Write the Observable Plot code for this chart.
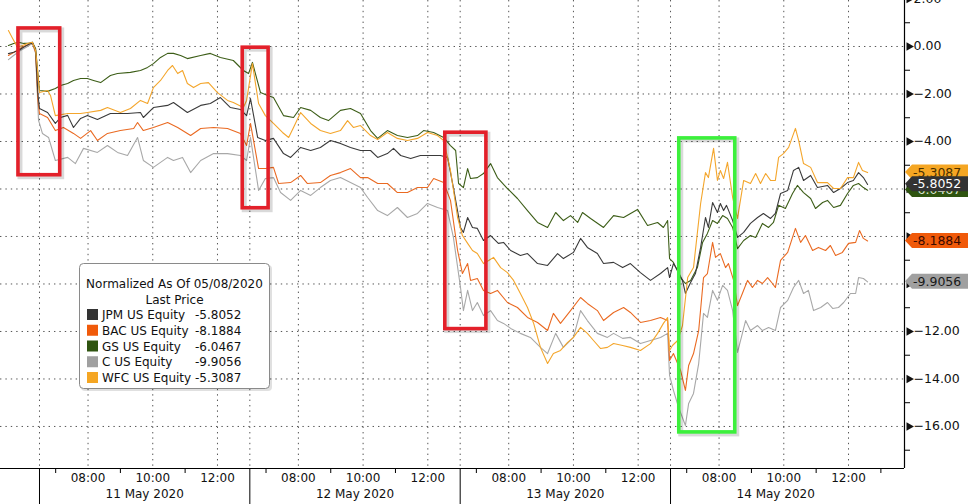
<!DOCTYPE html>
<html><head><meta charset="utf-8">
<script src="https://cdn.jsdelivr.net/npm/d3@7"></script>
<script src="https://cdn.jsdelivr.net/npm/@observablehq/plot@0.6"></script>
<style>
html,body{margin:0;padding:0;background:#fff;}
#chart{position:relative;width:976px;height:504px;overflow:hidden;}
</style></head><body><div id="chart"></div>
<script>
// ---- data (time = trading hours since 11 May 06:30 open; sessions 06:30-13:00, gaps removed) ----
const tickers = ["JPM US Equity","BAC US Equity","GS US Equity","C US Equity","WFC US Equity"];
const lastPrice = [-5.8052,-8.1884,-6.0467,-9.9056,-5.3087];
const legendColors = ["#333333","#f05a0a","#2f5410","#a0a0a0","#f5a623"];
const lineColors = ["#3a3a3a","#ea6a22","#3d5e18","#a8a8a8","#f4a62c"];
const tagText = ["#ffffff","#3b0a00","#dfe8d6","#1a1a1a","#4a3000"];
const sessions = ["11 May 2020","12 May 2020","13 May 2020","14 May 2020"];
const hourLabels = ["08:00","10:00","12:00"];
const titleLines = ["Normalized As Of 05/08/2020","Last Price"];

const JPM = [[-0.96,-0.30],[-0.80,-0.24],[-0.65,-0.17],[-0.49,-0.03],[-0.34,0.08],[-0.22,0.18],[-0.12,-0.17],[-0.05,-1.98],
[0.00,-2.61],[0.25,-2.78],[0.49,-3.24],[0.65,-2.99],[0.87,-2.90],[1.05,-3.41],[1.27,-3.03],[1.48,-2.91],[1.79,-3.07],[2.19,-2.82],[2.72,-2.82],[3.12,-2.78],[3.21,-2.99],[3.52,-2.57],[3.96,-2.48],[4.14,-2.36],[4.57,-2.78],[4.98,-2.48],[5.28,-2.40],[5.59,-2.15],[5.90,-2.57],[6.21,-2.65],[6.40,-2.91],
[6.52,-2.19],[6.74,-3.83],[6.98,-3.96],[7.23,-3.87],[7.54,-4.51],[7.76,-4.67],[8.07,-4.25],[8.38,-4.38],[8.68,-4.25],[8.99,-3.96],[9.30,-4.08],[9.61,-4.25],[9.92,-4.38],[10.23,-4.38],[10.45,-4.67],[10.75,-4.51],[10.94,-4.29],[11.16,-4.59],[11.47,-4.72],[11.77,-4.59],[12.08,-4.59],[12.39,-4.59],[12.61,-4.67],[12.79,-5.94],
[13.01,-7.62],[13.10,-7.83],[13.23,-7.20],[13.38,-7.62],[13.53,-7.66],[13.72,-8.17],[13.94,-7.96],[14.18,-8.29],[14.34,-8.25],[14.56,-8.59],[14.86,-8.80],[15.08,-8.72],[15.39,-9.14],[15.70,-9.22],[16.01,-8.72],[16.19,-8.93],[16.50,-8.67],[16.72,-8.08],[16.93,-8.46],[17.24,-8.72],[17.43,-9.14],[17.74,-9.09],[18.02,-9.31],[18.26,-9.14],[18.57,-9.52],[18.88,-9.85],[19.19,-9.56],[19.41,-9.31],[19.47,-9.73],
[19.59,-9.14],[19.72,-9.43],[19.87,-9.85],[19.96,-10.40],[20.12,-9.94],[20.27,-9.56],[20.43,-8.46],[20.58,-7.20],[20.67,-7.62],[20.80,-6.57],[20.95,-6.99],[21.04,-6.61],[21.14,-6.91],[21.23,-6.69],[21.42,-7.33],[21.57,-8.04],[21.76,-7.83],[21.97,-7.45],[22.19,-7.20],[22.37,-7.03],[22.59,-7.24],[22.74,-7.03],[22.90,-6.19],[23.12,-6.06],[23.30,-5.22],[23.46,-5.09],[23.61,-5.64],[23.83,-5.43],[24.04,-5.94],[24.35,-5.85],[24.54,-6.15],[24.75,-5.98],[24.97,-5.73],[25.15,-5.64],[25.31,-5.31],[25.46,-5.52],[25.59,-5.81]];

const BAC = [[-0.96,-0.38],[-0.80,-0.25],[-0.65,-0.13],[-0.49,0.00],[-0.34,0.08],[-0.22,0.17],[-0.12,-0.25],[-0.05,-2.27],
[0.00,-2.82],[0.25,-2.99],[0.49,-3.54],[0.74,-3.41],[1.05,-3.66],[1.27,-3.87],[1.58,-3.54],[1.79,-3.96],[2.10,-3.66],[2.50,-3.54],[2.91,-3.45],[3.03,-3.20],[3.21,-3.54],[3.52,-3.41],[3.96,-3.20],[4.27,-3.41],[4.67,-3.75],[4.98,-3.45],[5.38,-3.41],[5.81,-3.45],[6.21,-3.66],[6.40,-4.17],
[6.52,-3.24],[6.77,-5.14],[6.98,-5.14],[7.23,-5.09],[7.39,-5.77],[7.76,-5.73],[8.07,-5.43],[8.28,-5.77],[8.68,-5.73],[8.99,-5.43],[9.30,-5.31],[9.61,-5.14],[9.92,-5.52],[10.14,-5.52],[10.45,-5.77],[10.75,-5.77],[11.06,-6.15],[11.37,-6.15],[11.68,-5.94],[11.99,-5.94],[12.18,-5.56],[12.49,-5.73],[12.70,-6.48],[12.92,-8.59],
[13.07,-9.56],[13.23,-9.14],[13.32,-9.85],[13.53,-9.77],[13.72,-10.27],[13.94,-10.40],[14.15,-10.27],[14.46,-10.78],[14.77,-10.99],[15.08,-11.41],[15.39,-11.62],[15.70,-11.96],[15.88,-11.24],[16.10,-11.66],[16.41,-11.12],[16.72,-10.57],[16.93,-10.82],[17.24,-11.12],[17.43,-11.54],[17.74,-11.20],[18.05,-10.99],[18.26,-11.20],[18.57,-11.62],[18.88,-11.54],[19.19,-11.41],[19.41,-11.54],[19.47,-13.22],
[19.59,-12.93],[19.81,-13.64],[19.96,-14.48],[20.06,-13.43],[20.21,-12.93],[20.37,-11.96],[20.52,-9.73],[20.64,-9.56],[20.80,-8.25],[20.89,-8.88],[21.04,-8.72],[21.20,-9.31],[21.29,-9.14],[21.45,-9.85],[21.57,-10.91],[21.72,-10.40],[21.88,-9.85],[22.03,-10.15],[22.19,-9.85],[22.34,-9.98],[22.50,-9.73],[22.65,-9.98],[22.74,-10.15],[22.90,-9.01],[23.12,-8.67],[23.36,-7.66],[23.52,-8.25],[23.67,-7.96],[23.89,-8.59],[24.07,-8.46],[24.29,-8.59],[24.44,-8.38],[24.60,-8.80],[24.81,-8.67],[25.00,-8.29],[25.22,-8.25],[25.34,-7.75],[25.46,-8.08],[25.59,-8.19]];

const GS = [[-0.96,0.04],[-0.80,0.13],[-0.65,0.18],[-0.49,0.13],[-0.34,0.14],[-0.22,0.18],[-0.12,-0.08],[-0.05,-1.14],
[0.00,-1.85],[0.25,-1.89],[0.49,-1.77],[0.65,-1.64],[0.87,-1.56],[1.05,-1.43],[1.27,-1.35],[1.48,-1.35],[1.67,-1.43],[1.89,-1.52],[2.19,-1.22],[2.41,-1.14],[2.81,-1.09],[3.12,-1.01],[3.34,-0.88],[3.52,-0.72],[3.74,-0.46],[3.96,-0.29],[4.14,-0.29],[4.36,-0.38],[4.57,-0.51],[4.98,-0.38],[5.28,-0.29],[5.59,-0.46],[5.99,-0.59],[6.30,-1.01],[6.46,-1.14],
[6.58,-0.67],[6.83,-1.94],[7.05,-2.06],[7.23,-2.15],[7.54,-2.91],[7.85,-2.99],[8.07,-2.57],[8.38,-2.69],[8.68,-2.99],[8.93,-3.12],[9.30,-2.69],[9.61,-2.61],[9.92,-2.82],[10.23,-3.54],[10.45,-3.87],[10.75,-3.54],[11.06,-3.75],[11.37,-3.83],[11.68,-3.75],[11.87,-3.54],[12.18,-3.62],[12.49,-3.83],[12.70,-4.17],[12.86,-4.38],
[12.95,-5.77],[13.10,-5.94],[13.23,-5.14],[13.32,-5.56],[13.53,-5.52],[13.72,-5.35],[13.94,-4.93],[14.15,-5.52],[14.46,-5.98],[14.77,-6.40],[15.08,-6.91],[15.39,-7.41],[15.70,-7.62],[15.95,-6.99],[16.19,-7.33],[16.41,-7.12],[16.63,-7.41],[16.78,-6.99],[17.03,-7.24],[17.43,-7.62],[17.74,-7.12],[18.05,-7.20],[18.48,-6.86],[18.79,-7.54],[19.10,-7.41],[19.28,-7.62],[19.41,-7.33],[19.47,-8.93],
[19.59,-9.09],[19.81,-9.73],[19.96,-9.98],[20.12,-9.85],[20.33,-9.31],[20.49,-8.25],[20.64,-7.87],[20.80,-7.33],[20.95,-7.45],[21.11,-7.12],[21.26,-7.24],[21.42,-7.62],[21.57,-8.51],[21.76,-8.17],[21.97,-7.96],[22.13,-8.04],[22.34,-7.45],[22.53,-7.62],[22.68,-7.41],[22.84,-6.69],[23.05,-6.82],[23.27,-6.19],[23.42,-5.85],[23.61,-6.15],[23.83,-6.40],[23.98,-6.82],[24.20,-6.57],[24.35,-6.48],[24.54,-6.78],[24.75,-6.69],[24.97,-6.19],[25.15,-5.85],[25.31,-5.77],[25.46,-5.94],[25.59,-6.05]];

const C = [[-0.96,-0.55],[-0.80,-0.38],[-0.59,-0.17],[-0.37,0.00],[-0.22,0.14],[-0.12,-0.29],[-0.03,-3.12],
[0.00,-3.24],[0.09,-3.66],[0.28,-3.83],[0.49,-4.80],[0.87,-4.67],[1.11,-4.93],[1.36,-4.29],[1.79,-4.46],[2.10,-4.17],[2.41,-4.46],[2.72,-4.59],[3.03,-3.83],[3.21,-4.80],[3.52,-5.09],[3.96,-4.67],[4.14,-4.80],[4.42,-4.67],[4.67,-5.31],[4.98,-4.80],[5.38,-4.51],[5.81,-4.51],[6.21,-4.59],[6.40,-4.80],
[6.52,-3.83],[6.77,-6.06],[6.98,-5.56],[7.23,-5.52],[7.45,-6.15],[7.76,-6.48],[8.07,-6.06],[8.38,-6.27],[8.68,-5.94],[8.99,-5.64],[9.30,-5.52],[9.61,-5.73],[9.92,-5.94],[10.14,-6.36],[10.45,-6.91],[10.75,-7.12],[11.06,-6.78],[11.37,-7.20],[11.68,-7.03],[11.99,-6.61],[12.30,-6.78],[12.61,-6.91],[12.79,-8.04],
[13.01,-10.15],[13.10,-11.12],[13.23,-10.27],[13.38,-11.12],[13.53,-10.78],[13.72,-11.33],[13.94,-11.12],[14.15,-11.54],[14.34,-11.66],[14.56,-11.87],[14.86,-12.08],[15.17,-12.25],[15.48,-12.67],[15.70,-12.93],[15.95,-12.08],[16.19,-12.67],[16.50,-12.25],[16.72,-11.12],[16.93,-11.54],[17.24,-12.08],[17.55,-12.25],[17.74,-12.08],[18.02,-12.29],[18.26,-12.25],[18.57,-12.51],[18.88,-12.38],[19.19,-12.25],[19.41,-12.08],[19.47,-13.85],
[19.59,-14.48],[19.75,-15.20],[19.96,-15.96],[20.06,-15.03],[20.21,-14.61],[20.37,-13.35],[20.52,-11.24],[20.64,-11.41],[20.80,-10.27],[20.95,-10.69],[21.11,-10.06],[21.26,-10.27],[21.42,-11.12],[21.57,-12.88],[21.72,-12.08],[21.82,-11.54],[21.97,-11.96],[22.19,-11.75],[22.34,-11.96],[22.53,-11.83],[22.74,-11.96],[22.90,-10.99],[23.12,-10.69],[23.30,-10.15],[23.46,-9.85],[23.61,-10.40],[23.76,-10.27],[23.92,-11.12],[24.14,-10.99],[24.35,-10.78],[24.51,-11.03],[24.69,-10.99],[24.85,-10.78],[25.06,-10.40],[25.22,-10.40],[25.31,-9.73],[25.46,-9.77],[25.59,-9.91]];

const WFC = [[-0.96,0.67],[-0.83,0.34],[-0.68,-0.03],[-0.53,0.04],[-0.37,0.13],[-0.22,0.18],[-0.12,-0.17],[-0.05,-1.14],
[0.00,-1.94],[0.25,-1.85],[0.34,-2.06],[0.49,-2.91],[0.87,-2.82],[1.27,-2.82],[1.48,-2.78],[1.89,-2.69],[2.10,-2.57],[2.50,-2.78],[2.81,-2.61],[3.12,-2.27],[3.34,-2.40],[3.52,-1.73],[3.74,-1.43],[3.96,-1.01],[4.11,-0.80],[4.27,-1.14],[4.42,-1.01],[4.57,-1.56],[4.76,-1.73],[4.98,-1.56],[5.22,-1.52],[5.50,-1.94],[5.81,-2.27],[5.99,-2.36],[6.30,-2.57],[6.40,-2.27],
[6.58,-0.72],[6.77,-2.40],[6.98,-2.91],[7.23,-3.24],[7.51,-3.62],[7.70,-3.83],[7.85,-3.41],[8.07,-2.78],[8.38,-3.24],[8.68,-3.54],[8.99,-3.66],[9.30,-3.54],[9.52,-3.12],[9.70,-3.41],[9.92,-3.33],[10.23,-3.75],[10.45,-3.92],[10.75,-3.62],[11.06,-3.87],[11.37,-3.96],[11.68,-3.87],[11.99,-3.62],[12.30,-3.75],[12.49,-3.96],[12.70,-5.22],[12.92,-7.20],
[13.07,-7.96],[13.23,-8.29],[13.38,-8.59],[13.53,-8.72],[13.72,-9.14],[13.88,-9.01],[14.03,-8.88],[14.25,-9.31],[14.46,-9.52],[14.65,-9.85],[14.86,-10.40],[15.08,-10.99],[15.27,-11.66],[15.48,-12.67],[15.70,-13.35],[15.88,-12.93],[16.10,-12.80],[16.32,-12.46],[16.50,-12.25],[16.72,-11.83],[16.93,-12.08],[17.12,-12.38],[17.34,-12.72],[17.55,-12.67],[17.74,-12.51],[18.02,-12.59],[18.26,-12.67],[18.57,-12.80],[18.88,-12.51],[19.10,-12.08],[19.28,-11.66],[19.41,-11.41],[19.47,-12.80],
[19.56,-12.59],[19.72,-12.38],[19.87,-11.75],[20.03,-9.73],[20.21,-9.31],[20.43,-6.61],[20.58,-5.31],[20.67,-5.52],[20.83,-4.29],[20.95,-5.64],[21.04,-5.22],[21.14,-5.56],[21.26,-4.88],[21.42,-6.36],[21.57,-7.24],[21.76,-5.64],[21.97,-5.77],[22.13,-5.35],[22.28,-5.77],[22.44,-5.35],[22.59,-5.64],[22.74,-5.64],[22.84,-4.67],[22.99,-4.51],[23.15,-4.25],[23.36,-3.45],[23.46,-3.96],[23.61,-4.93],[23.83,-5.09],[24.04,-5.73],[24.35,-5.73],[24.54,-5.98],[24.75,-5.98],[24.97,-5.52],[25.15,-5.52],[25.31,-4.88],[25.43,-5.22],[25.59,-5.31]];

const seriesData = [JPM, BAC, GS, C, WFC];

// highlighted windows (time from/to, value from/to)
const highlights = [
  {t1:-0.65, t2:0.64, v1:0.76, v2:-5.42, color:"#e3202a"},
  {t1:6.28, t2:7.08, v1:-0.05, v2:-6.81, color:"#e3202a"},
  {t1:12.54, t2:13.81, v1:-3.63, v2:-11.90, color:"#e3202a"},
  {t1:19.77, t2:21.50, v1:-3.87, v2:-16.25, color:"#3cf03c"}
];

// ---- scales / ticks ----
const sessionLength = 6.5;
const xDomain = [-1.205, 26.73];
const yDomain = [-17.77, 1.937];
const yMajor = d3.range(2, -17, -2);
const yMinor = d3.range(1, -18, -2);
// tick labels hidden behind the last-value tags (as on the original terminal)
const yLabelled = yMajor.filter(v => !lastPrice.some(p => Math.abs(p - v) < 0.45));
const dayStarts = sessions.map((s, i) => i * sessionLength);
const labelOffsets = [1.5, 3.5, 5.5];
const minorOffsets = [0.5, 2.5, 4.5];
const hourTicks = [], hourText = new Map();
dayStarts.forEach(d => labelOffsets.forEach((o, j) => { hourTicks.push(d + o); hourText.set(d + o, hourLabels[j]); }));
const minorTicks = [];
dayStarts.forEach(d => minorOffsets.forEach(o => minorTicks.push(d + o)));
minorTicks.push(dayStarts[3] + sessionLength);
const dayMid = dayStarts.map(d => d + sessionLength / 2);
const dayText = new Map(dayMid.map((d, i) => [d, sessions[i]]));
const gridX = [...dayStarts, ...hourTicks];
const gridY = yMajor.filter(v => v <= 0);

const drawOrder = [3, 1, 2, 0, 4];
const grid = {stroke: "#555", strokeDasharray: "1.4,4", strokeWidth: 1};

const chart = Plot.plot({
  width: 976, height: 504,
  marginLeft: 0, marginRight: 72, marginTop: 0, marginBottom: 36,
  x: {domain: xDomain},
  y: {domain: yDomain},
  style: {fontFamily: "DejaVu Sans", fontSize: "12px", color: "#000", background: "#fff"},
  marks: [
    Plot.ruleY(gridY, grid),
    Plot.ruleX(gridX, grid),
    ...drawOrder.map(i => Plot.line(seriesData[i], {x: d => d[0], y: d => d[1], stroke: lineColors[i], strokeWidth: 1.1})),
    Plot.rect(highlights, {x1: "t1", x2: "t2", y1: "v1", y2: "v2", fill: "none", stroke: "#000", strokeOpacity: 0.15, strokeWidth: 5, dx: 2, dy: 2}),
    Plot.rect(highlights, {x1: "t1", x2: "t2", y1: "v1", y2: "v2", fill: "none", stroke: "color", strokeWidth: 3.6}),
    Plot.ruleY([yDomain[0]], {stroke: "#000", strokeWidth: 1.2}),
    Plot.ruleX([xDomain[1]], {stroke: "#000", strokeWidth: 1.2}),
    Plot.axisY({ticks: yMinor, anchor: "right", tickSize: 5, tickFormat: () => "", stroke: "#000"}),
    Plot.axisY({ticks: yLabelled, anchor: "right", tickSize: 0, tickPadding: 9, tickFormat: d3.format(".2f"), fontSize: 12.5, fill: "#111"}),
    Plot.dot(yMajor, {x: () => xDomain[1], y: d => d, symbol: "triangle", rotate: 90, r: 3.2, fill: "#111", dx: 4.5}),
    Plot.axisX({ticks: minorTicks, anchor: "bottom", tickSize: 5, tickFormat: () => "", stroke: "#000"}),
    Plot.axisX({ticks: hourTicks, anchor: "bottom", tickSize: 0, tickPadding: 5, tickFormat: t => hourText.get(t), fill: "#111"}),
    Plot.axisX({ticks: dayMid, anchor: "bottom", tickSize: 0, tickPadding: 21, tickFormat: t => dayText.get(t), fill: "#111"}),
    Plot.axisX({ticks: dayStarts, anchor: "bottom", tickSize: 36, tickFormat: () => "", stroke: "#000"})
  ]
});
document.getElementById("chart").appendChild(chart);

// ---- last value tags on the right axis ----
const svg = d3.select(chart);
const ys = chart.scale("y"), xs = chart.scale("x");
const tip = xs.apply(xDomain[1]) + 1;
const tagOrder = [4, 2, 0, 1, 3];
const tags = svg.append("g").attr("font-family", "DejaVu Sans").attr("font-size", 12.5).attr("text-anchor", "start");
tagOrder.forEach(i => {
  const cy = ys.apply(lastPrice[i]);
  const h = 7.5;
  tags.append("path")
    .attr("d", `M${tip},${cy} L${tip + 7},${cy - h} L${tip + 63},${cy - h} L${tip + 63},${cy + h} L${tip + 7},${cy + h} Z`)
    .attr("fill", legendColors[i]);
  tags.append("text").attr("x", tip + 8).attr("y", cy).attr("dy", "0.36em").attr("text-anchor", "start")
    .attr("fill", tagText[i]).text(lastPrice[i].toFixed(4));
});

// ---- legend box ----
const lg = svg.append("g").attr("font-family", "DejaVu Sans").attr("font-size", 12).attr("fill", "#111").attr("text-anchor", "start");
lg.append("rect").attr("x", 81).attr("y", 265).attr("width", 191).attr("height", 126).attr("rx", 4)
  .attr("fill", "#000").attr("opacity", 0.12);
lg.append("rect").attr("x", 79.5).attr("y", 263.5).attr("width", 190).attr("height", 125).attr("rx", 4)
  .attr("fill", "#fff").attr("stroke", "#8a8a8a");
lg.append("text").attr("x", 174.5).attr("y", 288).attr("text-anchor", "middle").text(titleLines[0]);
lg.append("text").attr("x", 174.5).attr("y", 303.5).attr("text-anchor", "middle").text(titleLines[1]);
tickers.forEach((t, i) => {
  const base = 319 + i * 15.75;
  lg.append("rect").attr("x", 87).attr("y", base - 10).attr("width", 11).attr("height", 11).attr("fill", legendColors[i]);
  lg.append("text").attr("x", 102).attr("y", base).attr("text-anchor", "start").text(t);
  lg.append("text").attr("x", 195).attr("y", base).attr("text-anchor", "start").text(lastPrice[i].toFixed(4));
});
</script></body></html>
